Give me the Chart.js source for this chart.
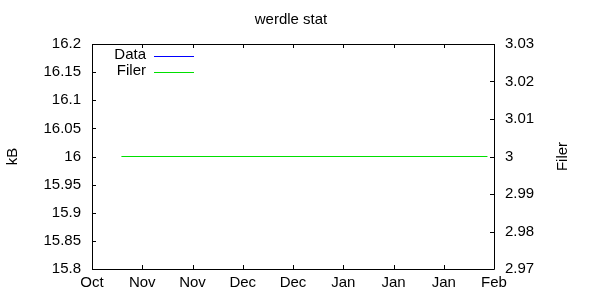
<!DOCTYPE html>
<html>
<head>
<meta charset="utf-8">
<script src="https://cdn.jsdelivr.net/npm/chart.js@4"></script>
<style>
  html, body { margin: 0; padding: 0; background: #fff; }
  #wrap { width: 600px; height: 300px; }
</style>
</head>
<body>
<div id="wrap"><canvas id="c" width="600" height="300"></canvas></div>
<script>
// x is days since 1 Oct
const xTickLabels = ['Oct', 'Nov', 'Nov', 'Dec', 'Dec', 'Jan', 'Jan', 'Jan', 'Feb'];
const xSpanDays = 123;

// Data series (nothing plotted in the picture)
const dataDays = [];
const dataValues = [];

// Filer series, right axis
const filerDays = [9, 121];
const filerValues = [3, 3];

const leftTicks = [15.8, 15.85, 15.9, 15.95, 16, 16.05, 16.1, 16.15, 16.2];
const rightTicks = [2.97, 2.98, 2.99, 3, 3.01, 3.02, 3.03];

const FONT = '15px "Liberation Sans", Arial, sans-serif';

const toPoints = (xs, ys) => xs.map((x, i) => ({ x: x, y: ys[i] }));

// gnuplot style frame, inward ticks, titles and legend
const framePlugin = {
    id: 'frame',
    afterDraw(chart) {
        const { ctx, chartArea: a, scales } = chart;
        const tl = 4;
        ctx.save();
        ctx.strokeStyle = '#000';
        ctx.lineWidth = 1;
        ctx.beginPath();
        ctx.rect(Math.round(a.left) + 0.5, Math.round(a.top) + 0.5,
                 Math.round(a.right - a.left), Math.round(a.bottom - a.top));
        // left ticks
        leftTicks.forEach(v => {
            const y = Math.round(scales.y.getPixelForValue(v)) + 0.5;
            ctx.moveTo(a.left, y); ctx.lineTo(a.left + tl, y);
        });
        // right ticks
        rightTicks.forEach(v => {
            const y = Math.round(scales.y2.getPixelForValue(v)) + 0.5;
            ctx.moveTo(a.right, y); ctx.lineTo(a.right - tl, y);
        });
        // bottom + top ticks
        scales.x.ticks.forEach(t => {
            const x = Math.round(scales.x.getPixelForValue(t.value)) + 0.5;
            ctx.moveTo(x, a.bottom); ctx.lineTo(x, a.bottom - tl);
            ctx.moveTo(x, a.top); ctx.lineTo(x, a.top + tl);
        });
        ctx.stroke();

        ctx.fillStyle = '#000';
        ctx.font = FONT;
        ctx.textAlign = 'center';
        ctx.textBaseline = 'middle';
        ctx.fillText('werdle stat', 291, 20);

        ctx.save();
        ctx.translate(13, (a.top + a.bottom) / 2);
        ctx.rotate(-Math.PI / 2);
        ctx.fillText('kB', 0, 0);
        ctx.restore();

        ctx.save();
        ctx.translate(563, (a.top + a.bottom) / 2);
        ctx.rotate(-Math.PI / 2);
        ctx.fillText('Filer', 0, 0);
        ctx.restore();

        // legend
        chart.data.datasets.forEach((ds, i) => {
            const y = 56 + i * 16;
            ctx.textAlign = 'right';
            ctx.fillText(ds.label, 146, y - 1);
            ctx.strokeStyle = ds.borderColor;
            ctx.beginPath();
            ctx.moveTo(154, y + 0.5);
            ctx.lineTo(194, y + 0.5);
            ctx.stroke();
        });
        ctx.restore();
    }
};

new Chart(document.getElementById('c'), {
    type: 'line',
    data: {
        datasets: [
            {
                label: 'Data',
                data: toPoints(dataDays, dataValues),
                borderColor: '#0000ff',
                borderWidth: 1,
                pointRadius: 0,
                yAxisID: 'y'
            },
            {
                label: 'Filer',
                data: toPoints(filerDays, filerValues),
                borderColor: '#00e000',
                borderWidth: 1,
                pointRadius: 0,
                yAxisID: 'y2'
            }
        ]
    },
    options: {
        responsive: false,
        animation: false,
        layout: { padding: { top: 44, left: 0, right: 0, bottom: 0 } },
        plugins: {
            legend: { display: false },
            title: { display: false },
            tooltip: { enabled: false }
        },
        scales: {
            x: {
                type: 'linear',
                min: 0,
                max: xSpanDays,
                afterBuildTicks: (s) => {
                    s.ticks = xTickLabels.map((_, i) => ({ value: i * xSpanDays / (xTickLabels.length - 1) }));
                },
                afterFit: (s) => { s.height = 31; },
                grid: { display: false, drawTicks: false },
                border: { display: false },
                ticks: {
                    padding: 5,
                    maxRotation: 0,
                    autoSkip: false,
                    color: '#000',
                    font: { family: '"Liberation Sans", Arial, sans-serif', size: 15 },
                    callback: (v, i) => xTickLabels[i]
                }
            },
            y: {
                position: 'left',
                min: 15.8,
                max: 16.2,
                afterBuildTicks: (s) => { s.ticks = leftTicks.map(v => ({ value: v })); },
                afterFit: (s) => { s.width = 92; },
                grid: { display: false, drawTicks: false },
                border: { display: false },
                ticks: {
                    padding: 11,
                    color: '#000',
                    font: { family: '"Liberation Sans", Arial, sans-serif', size: 15 },
                    callback: (v) => String(+v.toFixed(2))
                }
            },
            y2: {
                position: 'right',
                min: 2.97,
                max: 3.03,
                afterBuildTicks: (s) => { s.ticks = rightTicks.map(v => ({ value: v })); },
                afterFit: (s) => { s.width = 106; },
                grid: { display: false, drawTicks: false },
                border: { display: false },
                ticks: {
                    padding: 11,
                    color: '#000',
                    font: { family: '"Liberation Sans", Arial, sans-serif', size: 15 },
                    callback: (v) => String(+v.toFixed(2))
                }
            }
        }
    },
    plugins: [framePlugin]
});
</script>
</body>
</html>
